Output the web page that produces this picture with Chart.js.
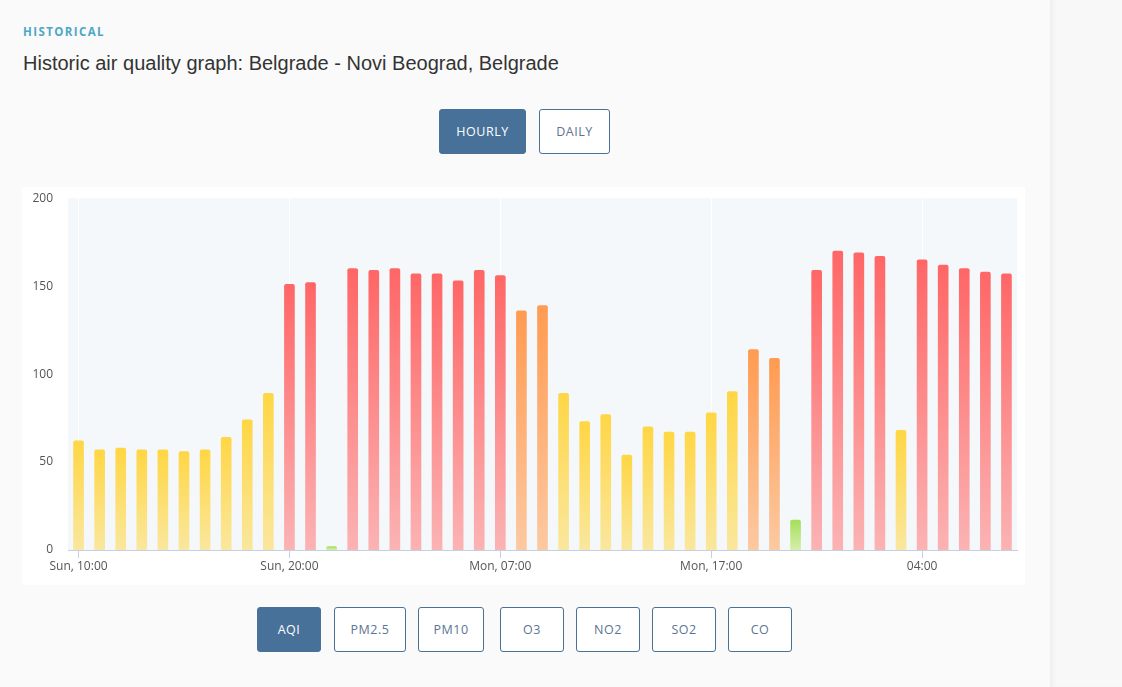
<!DOCTYPE html>
<html>
<head>
<meta charset="utf-8">
<script src="https://cdn.jsdelivr.net/npm/chart.js@4/dist/chart.umd.min.js"></script>
<style>
  html, body { margin: 0; padding: 0; }
  body {
    width: 1122px; height: 687px; overflow: hidden;
    background: #fafafa; position: relative;
    font-family: "Open Sans", "Liberation Sans", sans-serif;
  }
  .side {
    position: absolute; left: 1050px; top: 0; width: 72px; height: 687px;
    background: #f8f8f8;
    box-shadow: inset 6px 0 6px -4px rgba(0,0,0,0.05);
  }
  .kicker {
    position: absolute; left: 23px; top: 24px;
    font-size: 11.5px; font-weight: 700; letter-spacing: 1.4px;
    color: #4ea6c6;
  }
  .title {
    position: absolute; left: 23px; top: 52px;
    font-family: "Liberation Sans", Arial, sans-serif;
    font-size: 20px; color: #333;
  }
  .btn {
    position: absolute; height: 45px; box-sizing: border-box;
    border: 1px solid #4a7198; border-radius: 3px;
    background: #fff; color: #5c7493;
    font-size: 12.5px; letter-spacing: 0.5px;
    display: flex; align-items: center; justify-content: center;
  }
  .btn.on { background: #48719a; color: #fff; }
  .card {
    position: absolute; left: 22px; top: 187px; width: 1003px; height: 398px;
    background: #fff;
  }
  .card canvas { display: block; position: absolute; left: 0; top: -11px; }
</style>
</head>
<body>
<div class="side"></div>
<div class="kicker">HISTORICAL</div>
<div class="title">Historic air quality graph: Belgrade - Novi Beograd, Belgrade</div>

<div class="btn on" style="left:439px;top:109px;width:87px;">HOURLY</div>
<div class="btn" style="left:539px;top:109px;width:71px;">DAILY</div>

<div class="card"><canvas id="aqiChart" width="1003" height="409"></canvas></div>

<div class="btn on" style="left:257px;top:607px;width:64px;">AQI</div>
<div class="btn" style="left:334px;top:607px;width:72px;">PM2.5</div>
<div class="btn" style="left:418px;top:607px;width:66px;">PM10</div>
<div class="btn" style="left:500px;top:607px;width:64px;">O3</div>
<div class="btn" style="left:576px;top:607px;width:64px;">NO2</div>
<div class="btn" style="left:652px;top:607px;width:64px;">SO2</div>
<div class="btn" style="left:728px;top:607px;width:64px;">CO</div>

<script>
// ========= DATA =================== //
let hours = [
  "Sun, 10:00", "Sun, 11:00", "Sun, 12:00", "Sun, 13:00", "Sun, 14:00",
  "Sun, 15:00", "Sun, 16:00", "Sun, 17:00", "Sun, 18:00", "Sun, 19:00",
  "Sun, 20:00", "Sun, 21:00", "Sun, 22:00", "Sun, 23:00", "Mon, 00:00",
  "Mon, 01:00", "Mon, 02:00", "Mon, 03:00", "Mon, 04:00", "Mon, 05:00",
  "Mon, 07:00", "Mon, 08:00", "Mon, 09:00", "Mon, 10:00", "Mon, 11:00",
  "Mon, 12:00", "Mon, 13:00", "Mon, 14:00", "Mon, 15:00", "Mon, 16:00",
  "Mon, 17:00", "Mon, 18:00", "Mon, 19:00", "Mon, 20:00", "Mon, 21:00",
  "Mon, 22:00", "Mon, 23:00", "00:00", "01:00", "02:00",
  "04:00", "05:00", "06:00", "07:00", "08:00",
];

let aqiValues = [
  62, 57, 58, 57, 57, 56, 57, 64, 74, 89,
  151, 152, 2, 160, 159, 160, 157, 157, 153, 159,
  156, 136, 139, 89, 73, 77, 54, 70, 67, 67,
  78, 90, 114, 109, 17, 159, 170, 169, 167, 68,
  165, 162, 160, 158, 157,
];

let yTicks = [0, 50, 100, 150, 200];

// AQI bands: [upper limit, top colour, bottom colour]
let bands = [
  [50, "#a5de5c", "#d5efab"],
  [100, "#ffd644", "#fae79e"],
  [150, "#ff9b52", "#fcc9a1"],
  [200, "#ff6666", "#fbb3b4"],
];

function bandFor(v) {
  for (let b of bands) {
    if (v <= b[0]) return b;
  }
  return bands[bands.length - 1];
}

// ========= PLOT BACKGROUND ========= //
let plotBg = {
  id: "plotBg",
  beforeDraw(chart) {
    let { ctx, chartArea } = chart;
    ctx.save();
    ctx.fillStyle = "#f4f8fa";
    ctx.fillRect(chartArea.left, chartArea.top, chartArea.width, chartArea.height);
    ctx.restore();
  },
};

// ========= CHART =================== //
let aqi = document.getElementById("aqiChart").getContext("2d");

let aqiChart = new Chart(aqi, {
  type: "bar",
  data: {
    labels: hours,
    datasets: [
      {
        data: aqiValues,
        backgroundColor: (c) => {
          let b = bandFor(c.raw);
          let chart = c.chart;
          if (!chart.chartArea || c.type !== "data") return b[1];
          let y = chart.scales.y;
          let g = chart.ctx.createLinearGradient(0, y.getPixelForValue(c.raw), 0, y.getPixelForValue(0));
          g.addColorStop(0, b[1]);
          g.addColorStop(1, b[2]);
          return g;
        },
        borderWidth: 0,
        borderRadius: 2,
        barThickness: 10,
      },
    ],
  },
  options: {
    responsive: false,
    animation: false,
    layout: { padding: { top: 0, right: 8, left: 0, bottom: 0 } },
    plugins: {
      legend: { display: false },
      tooltip: { enabled: false },
    },
    scales: {
      x: {
        grid: {
          offset: false,
          color: (c) => (c.index % 10 === 0 ? "#ffffff" : "rgba(0,0,0,0)"),
          tickColor: (c) => (c.index % 10 === 0 ? "#c7d0e1" : "rgba(0,0,0,0)"),
          tickLength: 8,
        },
        border: { color: "#c7d0e1" },
        ticks: {
          autoSkip: false,
          maxRotation: 0,
          padding: 1,
          color: "#555",
          font: { family: "Open Sans", size: 12 },
          callback: (v, i) => (i % 10 === 0 ? hours[i] : ""),
        },
        afterFit: (s) => { s.height = 35; },
      },
      y: {
        min: yTicks[0],
        max: yTicks[yTicks.length - 1],
        grid: { display: false, drawTicks: false },
        border: { display: false },
        afterBuildTicks: (s) => { s.ticks = yTicks.map((v) => ({ value: v })); },
        ticks: {
          padding: 15,
          color: "#555",
          font: { family: "Open Sans", size: 12 },
        },
        afterFit: (s) => { s.width = 46; },
      },
    },
  },
  plugins: [plotBg],
});
</script>
</body>
</html>
